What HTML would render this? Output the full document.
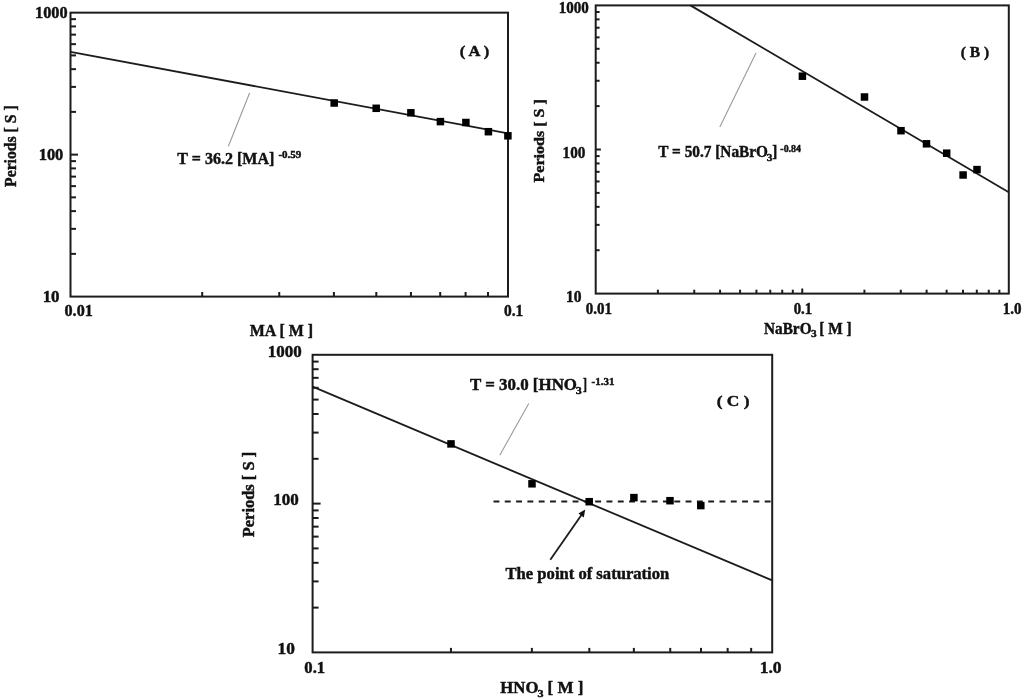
<!DOCTYPE html>
<html><head><meta charset="utf-8"><style>
html,body{margin:0;padding:0;background:#fff;}
body{width:1024px;height:699px;overflow:hidden;}
svg{display:block;filter:blur(0.45px);}
text{font-family:"Liberation Serif", serif;font-weight:bold;fill:#111;stroke:#111;stroke-width:0.45px;}
</style></head><body>
<svg width="1024" height="699" viewBox="0 0 1024 699">
<rect width="1024" height="699" fill="#fff"/>
<rect x="70.50" y="12.66" width="437.50" height="283.94" fill="none" stroke="#1c1c1c" stroke-width="2"/>
<line x1="70.50" y1="253.86" x2="76.00" y2="253.86" stroke="#1c1c1c" stroke-width="2" />
<line x1="70.50" y1="228.86" x2="76.00" y2="228.86" stroke="#1c1c1c" stroke-width="2" />
<line x1="70.50" y1="211.13" x2="76.00" y2="211.13" stroke="#1c1c1c" stroke-width="2" />
<line x1="70.50" y1="197.37" x2="76.00" y2="197.37" stroke="#1c1c1c" stroke-width="2" />
<line x1="70.50" y1="186.13" x2="76.00" y2="186.13" stroke="#1c1c1c" stroke-width="2" />
<line x1="70.50" y1="176.62" x2="76.00" y2="176.62" stroke="#1c1c1c" stroke-width="2" />
<line x1="70.50" y1="168.39" x2="76.00" y2="168.39" stroke="#1c1c1c" stroke-width="2" />
<line x1="70.50" y1="161.13" x2="76.00" y2="161.13" stroke="#1c1c1c" stroke-width="2" />
<line x1="70.50" y1="154.63" x2="78.00" y2="154.63" stroke="#1c1c1c" stroke-width="2" />
<line x1="70.50" y1="111.89" x2="76.00" y2="111.89" stroke="#1c1c1c" stroke-width="2" />
<line x1="70.50" y1="86.89" x2="76.00" y2="86.89" stroke="#1c1c1c" stroke-width="2" />
<line x1="70.50" y1="69.16" x2="76.00" y2="69.16" stroke="#1c1c1c" stroke-width="2" />
<line x1="70.50" y1="55.40" x2="76.00" y2="55.40" stroke="#1c1c1c" stroke-width="2" />
<line x1="70.50" y1="44.16" x2="76.00" y2="44.16" stroke="#1c1c1c" stroke-width="2" />
<line x1="70.50" y1="34.65" x2="76.00" y2="34.65" stroke="#1c1c1c" stroke-width="2" />
<line x1="70.50" y1="26.42" x2="76.00" y2="26.42" stroke="#1c1c1c" stroke-width="2" />
<line x1="70.50" y1="19.16" x2="76.00" y2="19.16" stroke="#1c1c1c" stroke-width="2" />
<line x1="202.20" y1="296.60" x2="202.20" y2="292.00" stroke="#1c1c1c" stroke-width="2" />
<line x1="279.24" y1="296.60" x2="279.24" y2="292.00" stroke="#1c1c1c" stroke-width="2" />
<line x1="333.90" y1="296.60" x2="333.90" y2="292.00" stroke="#1c1c1c" stroke-width="2" />
<line x1="376.30" y1="296.60" x2="376.30" y2="292.00" stroke="#1c1c1c" stroke-width="2" />
<line x1="410.94" y1="296.60" x2="410.94" y2="292.00" stroke="#1c1c1c" stroke-width="2" />
<line x1="440.23" y1="296.60" x2="440.23" y2="292.00" stroke="#1c1c1c" stroke-width="2" />
<line x1="465.60" y1="296.60" x2="465.60" y2="292.00" stroke="#1c1c1c" stroke-width="2" />
<line x1="487.98" y1="296.60" x2="487.98" y2="292.00" stroke="#1c1c1c" stroke-width="2" />
<line x1="70.50" y1="51.80" x2="508.00" y2="133.40" stroke="#1c1c1c" stroke-width="1.8" />
<rect x="330.45" y="99.25" width="7.5" height="7.5" fill="#000"/>
<rect x="372.45" y="104.55" width="7.5" height="7.5" fill="#000"/>
<rect x="407.15" y="109.05" width="7.5" height="7.5" fill="#000"/>
<rect x="436.65" y="117.85" width="7.5" height="7.5" fill="#000"/>
<rect x="462.15" y="118.75" width="7.5" height="7.5" fill="#000"/>
<rect x="484.65" y="127.95" width="7.5" height="7.5" fill="#000"/>
<rect x="504.15" y="132.05" width="7.5" height="7.5" fill="#000"/>
<line x1="249.60" y1="93.00" x2="228.40" y2="146.30" stroke="#9a9a9a" stroke-width="1.1" />
<text transform="translate(35.00,18.40) scale(0.9805,1)" font-size="16.6">1000</text>
<text transform="translate(38.68,160.10) scale(0.9909,1)" font-size="16.6">100</text>
<text transform="translate(42.65,302.10) scale(1.0200,1)" font-size="16.6">10</text>
<text transform="translate(64.55,316.40) scale(0.9726,1)" font-size="16.6">0.01</text>
<text transform="translate(503.98,316.40) scale(0.9348,1)" font-size="16.6">0.1</text>
<text transform="translate(249.76,335.50) scale(0.9614,1)" font-size="16.6">MA [ M ]</text>
<text transform="translate(459.85,55.80) scale(1.0689,1)" font-size="15.5">( A )</text>
<text transform="translate(177.36,163.50) scale(0.9665,1)" font-size="16.6">T = 36.2 [MA]</text>
<text transform="translate(278.41,158.30) scale(1.0493,1)" font-size="10.5">-0.59</text>
<text transform="translate(15.60,186.94) rotate(-90) scale(0.9650,1)" font-size="16.3">Periods [ S ]</text>
<rect x="595.70" y="5.40" width="413.10" height="288.20" fill="none" stroke="#1c1c1c" stroke-width="2"/>
<line x1="595.70" y1="250.22" x2="599.60" y2="250.22" stroke="#1c1c1c" stroke-width="2" />
<line x1="595.70" y1="224.85" x2="599.60" y2="224.85" stroke="#1c1c1c" stroke-width="2" />
<line x1="595.70" y1="206.84" x2="599.60" y2="206.84" stroke="#1c1c1c" stroke-width="2" />
<line x1="595.70" y1="192.88" x2="599.60" y2="192.88" stroke="#1c1c1c" stroke-width="2" />
<line x1="595.70" y1="181.47" x2="599.60" y2="181.47" stroke="#1c1c1c" stroke-width="2" />
<line x1="595.70" y1="171.82" x2="599.60" y2="171.82" stroke="#1c1c1c" stroke-width="2" />
<line x1="595.70" y1="163.46" x2="599.60" y2="163.46" stroke="#1c1c1c" stroke-width="2" />
<line x1="595.70" y1="156.09" x2="599.60" y2="156.09" stroke="#1c1c1c" stroke-width="2" />
<line x1="595.70" y1="149.50" x2="600.90" y2="149.50" stroke="#1c1c1c" stroke-width="2" />
<line x1="595.70" y1="106.12" x2="599.60" y2="106.12" stroke="#1c1c1c" stroke-width="2" />
<line x1="595.70" y1="80.75" x2="599.60" y2="80.75" stroke="#1c1c1c" stroke-width="2" />
<line x1="595.70" y1="62.74" x2="599.60" y2="62.74" stroke="#1c1c1c" stroke-width="2" />
<line x1="595.70" y1="48.78" x2="599.60" y2="48.78" stroke="#1c1c1c" stroke-width="2" />
<line x1="595.70" y1="37.37" x2="599.60" y2="37.37" stroke="#1c1c1c" stroke-width="2" />
<line x1="595.70" y1="27.72" x2="599.60" y2="27.72" stroke="#1c1c1c" stroke-width="2" />
<line x1="595.70" y1="19.36" x2="599.60" y2="19.36" stroke="#1c1c1c" stroke-width="2" />
<line x1="595.70" y1="11.99" x2="599.60" y2="11.99" stroke="#1c1c1c" stroke-width="2" />
<line x1="657.88" y1="293.60" x2="657.88" y2="289.70" stroke="#1c1c1c" stroke-width="2" />
<line x1="694.25" y1="293.60" x2="694.25" y2="289.70" stroke="#1c1c1c" stroke-width="2" />
<line x1="720.06" y1="293.60" x2="720.06" y2="289.70" stroke="#1c1c1c" stroke-width="2" />
<line x1="740.07" y1="293.60" x2="740.07" y2="289.70" stroke="#1c1c1c" stroke-width="2" />
<line x1="756.43" y1="293.60" x2="756.43" y2="289.70" stroke="#1c1c1c" stroke-width="2" />
<line x1="770.26" y1="293.60" x2="770.26" y2="289.70" stroke="#1c1c1c" stroke-width="2" />
<line x1="782.23" y1="293.60" x2="782.23" y2="289.70" stroke="#1c1c1c" stroke-width="2" />
<line x1="792.80" y1="293.60" x2="792.80" y2="289.70" stroke="#1c1c1c" stroke-width="2" />
<line x1="802.25" y1="293.60" x2="802.25" y2="288.50" stroke="#1c1c1c" stroke-width="2" />
<line x1="864.43" y1="293.60" x2="864.43" y2="289.70" stroke="#1c1c1c" stroke-width="2" />
<line x1="900.80" y1="293.60" x2="900.80" y2="289.70" stroke="#1c1c1c" stroke-width="2" />
<line x1="926.61" y1="293.60" x2="926.61" y2="289.70" stroke="#1c1c1c" stroke-width="2" />
<line x1="946.62" y1="293.60" x2="946.62" y2="289.70" stroke="#1c1c1c" stroke-width="2" />
<line x1="962.98" y1="293.60" x2="962.98" y2="289.70" stroke="#1c1c1c" stroke-width="2" />
<line x1="976.81" y1="293.60" x2="976.81" y2="289.70" stroke="#1c1c1c" stroke-width="2" />
<line x1="988.78" y1="293.60" x2="988.78" y2="289.70" stroke="#1c1c1c" stroke-width="2" />
<line x1="999.35" y1="293.60" x2="999.35" y2="289.70" stroke="#1c1c1c" stroke-width="2" />
<line x1="690.40" y1="5.40" x2="1008.80" y2="192.20" stroke="#1c1c1c" stroke-width="1.8" />
<rect x="798.65" y="72.45" width="7.5" height="7.5" fill="#000"/>
<rect x="860.75" y="93.25" width="7.5" height="7.5" fill="#000"/>
<rect x="897.25" y="126.95" width="7.5" height="7.5" fill="#000"/>
<rect x="922.75" y="140.05" width="7.5" height="7.5" fill="#000"/>
<rect x="942.95" y="149.45" width="7.5" height="7.5" fill="#000"/>
<rect x="959.35" y="171.25" width="7.5" height="7.5" fill="#000"/>
<rect x="973.25" y="165.85" width="7.5" height="7.5" fill="#000"/>
<line x1="756.00" y1="53.00" x2="719.80" y2="127.10" stroke="#9a9a9a" stroke-width="1.1" />
<text transform="translate(558.80,13.00) scale(0.9068,1)" font-size="16.6">1000</text>
<text transform="translate(562.58,157.50) scale(0.9167,1)" font-size="16.6">100</text>
<text transform="translate(566.05,301.80) scale(0.9378,1)" font-size="16.6">10</text>
<text transform="translate(585.80,313.50) scale(0.9036,1)" font-size="16.6">0.01</text>
<text transform="translate(793.71,314.10) scale(0.8932,1)" font-size="16.6">0.1</text>
<text transform="translate(1002.80,313.80) scale(0.9063,1)" font-size="16.6">1.0</text>
<text transform="translate(764.10,334.10) scale(0.9180,1)" font-size="16.6">NaBrO</text>
<text transform="translate(811.05,337.00) scale(1.1294,1)" font-size="10">3</text>
<text transform="translate(819.25,334.10) scale(0.9251,1)" font-size="16.6">[ M ]</text>
<text transform="translate(960.80,57.20) scale(0.9982,1)" font-size="15.5">( B )</text>
<text transform="translate(658.37,157.30) scale(0.9223,1)" font-size="16.6">T = 50.7 [NaBrO</text>
<text transform="translate(766.85,160.60) scale(1.1294,1)" font-size="10">3</text>
<text transform="translate(772.27,157.30) scale(0.9103,1)" font-size="16.6">]</text>
<text transform="translate(780.35,152.40) scale(0.9430,1)" font-size="10.5">-0.84</text>
<text transform="translate(544.00,182.54) rotate(-90) scale(1.0708,1)" font-size="15.0">Periods [ S ]</text>
<rect x="312.60" y="354.80" width="459.60" height="297.60" fill="none" stroke="#1c1c1c" stroke-width="2"/>
<line x1="312.60" y1="607.61" x2="318.60" y2="607.61" stroke="#1c1c1c" stroke-width="2" />
<line x1="312.60" y1="581.40" x2="318.60" y2="581.40" stroke="#1c1c1c" stroke-width="2" />
<line x1="312.60" y1="562.81" x2="318.60" y2="562.81" stroke="#1c1c1c" stroke-width="2" />
<line x1="312.60" y1="548.39" x2="318.60" y2="548.39" stroke="#1c1c1c" stroke-width="2" />
<line x1="312.60" y1="536.61" x2="318.60" y2="536.61" stroke="#1c1c1c" stroke-width="2" />
<line x1="312.60" y1="526.65" x2="318.60" y2="526.65" stroke="#1c1c1c" stroke-width="2" />
<line x1="312.60" y1="518.02" x2="318.60" y2="518.02" stroke="#1c1c1c" stroke-width="2" />
<line x1="312.60" y1="510.41" x2="318.60" y2="510.41" stroke="#1c1c1c" stroke-width="2" />
<line x1="312.60" y1="503.60" x2="320.60" y2="503.60" stroke="#1c1c1c" stroke-width="2" />
<line x1="312.60" y1="458.81" x2="318.60" y2="458.81" stroke="#1c1c1c" stroke-width="2" />
<line x1="312.60" y1="432.60" x2="318.60" y2="432.60" stroke="#1c1c1c" stroke-width="2" />
<line x1="312.60" y1="414.01" x2="318.60" y2="414.01" stroke="#1c1c1c" stroke-width="2" />
<line x1="312.60" y1="399.59" x2="318.60" y2="399.59" stroke="#1c1c1c" stroke-width="2" />
<line x1="312.60" y1="387.81" x2="318.60" y2="387.81" stroke="#1c1c1c" stroke-width="2" />
<line x1="312.60" y1="377.85" x2="318.60" y2="377.85" stroke="#1c1c1c" stroke-width="2" />
<line x1="312.60" y1="369.22" x2="318.60" y2="369.22" stroke="#1c1c1c" stroke-width="2" />
<line x1="312.60" y1="361.61" x2="318.60" y2="361.61" stroke="#1c1c1c" stroke-width="2" />
<line x1="450.95" y1="652.40" x2="450.95" y2="647.90" stroke="#1c1c1c" stroke-width="2" />
<line x1="531.88" y1="652.40" x2="531.88" y2="647.90" stroke="#1c1c1c" stroke-width="2" />
<line x1="589.31" y1="652.40" x2="589.31" y2="647.90" stroke="#1c1c1c" stroke-width="2" />
<line x1="633.85" y1="652.40" x2="633.85" y2="647.90" stroke="#1c1c1c" stroke-width="2" />
<line x1="670.24" y1="652.40" x2="670.24" y2="647.90" stroke="#1c1c1c" stroke-width="2" />
<line x1="701.01" y1="652.40" x2="701.01" y2="647.90" stroke="#1c1c1c" stroke-width="2" />
<line x1="727.66" y1="652.40" x2="727.66" y2="647.90" stroke="#1c1c1c" stroke-width="2" />
<line x1="751.17" y1="652.40" x2="751.17" y2="647.90" stroke="#1c1c1c" stroke-width="2" />
<line x1="312.60" y1="386.60" x2="772.20" y2="580.40" stroke="#1c1c1c" stroke-width="1.8" />
<line x1="493.50" y1="501.60" x2="772.20" y2="501.60" stroke="#1c1c1c" stroke-width="2" stroke-dasharray="5.9 5.4"/>
<rect x="447.25" y="440.15" width="7.5" height="7.5" fill="#000"/>
<rect x="528.25" y="480.05" width="7.5" height="7.5" fill="#000"/>
<rect x="585.45" y="497.95" width="7.5" height="7.5" fill="#000"/>
<rect x="630.15" y="493.85" width="7.5" height="7.5" fill="#000"/>
<rect x="666.25" y="496.95" width="7.5" height="7.5" fill="#000"/>
<rect x="697.05" y="501.85" width="7.5" height="7.5" fill="#000"/>
<line x1="528.75" y1="403.60" x2="499.80" y2="455.20" stroke="#9a9a9a" stroke-width="1.1" />
<line x1="550.30" y1="559.80" x2="582.50" y2="513.50" stroke="#1c1c1c" stroke-width="1.8" />
<polygon points="585.2,509.6 578.4,513.6 583.8,517.4" fill="#111"/>
<text transform="translate(267.74,356.80) scale(1.0222,1)" font-size="16.6">1000</text>
<text transform="translate(273.24,505.10) scale(1.0258,1)" font-size="16.6">100</text>
<text transform="translate(277.51,654.30) scale(1.0474,1)" font-size="16.6">10</text>
<text transform="translate(304.33,673.20) scale(1.0023,1)" font-size="16.6">0.1</text>
<text transform="translate(759.70,672.90) scale(1.0555,1)" font-size="16.6">1.0</text>
<text transform="translate(500.35,693.10) scale(1.0090,1)" font-size="16.6">HNO</text>
<text transform="translate(537.62,696.60) scale(1.2000,1)" font-size="10">3</text>
<text transform="translate(547.52,693.10) scale(1.0266,1)" font-size="16.6">[ M ]</text>
<text transform="translate(716.72,405.90) scale(1.1183,1)" font-size="15.5">( C )</text>
<text transform="translate(469.95,389.80) scale(1.0202,1)" font-size="16.6">T = 30.0 [HNO</text>
<text transform="translate(575.82,393.70) scale(1.2000,1)" font-size="10">3</text>
<text transform="translate(583.08,389.80) scale(0.7229,1)" font-size="16.6">]</text>
<text transform="translate(591.62,385.20) scale(1.0429,1)" font-size="10.5">-1.31</text>
<text transform="translate(253.70,537.25) rotate(-90) scale(1.0107,1)" font-size="16.3">Periods [ S ]</text>
<text transform="translate(505.55,578.90) scale(1.0001,1)" font-size="16.6">The point of saturation</text>
</svg>
</body></html>
